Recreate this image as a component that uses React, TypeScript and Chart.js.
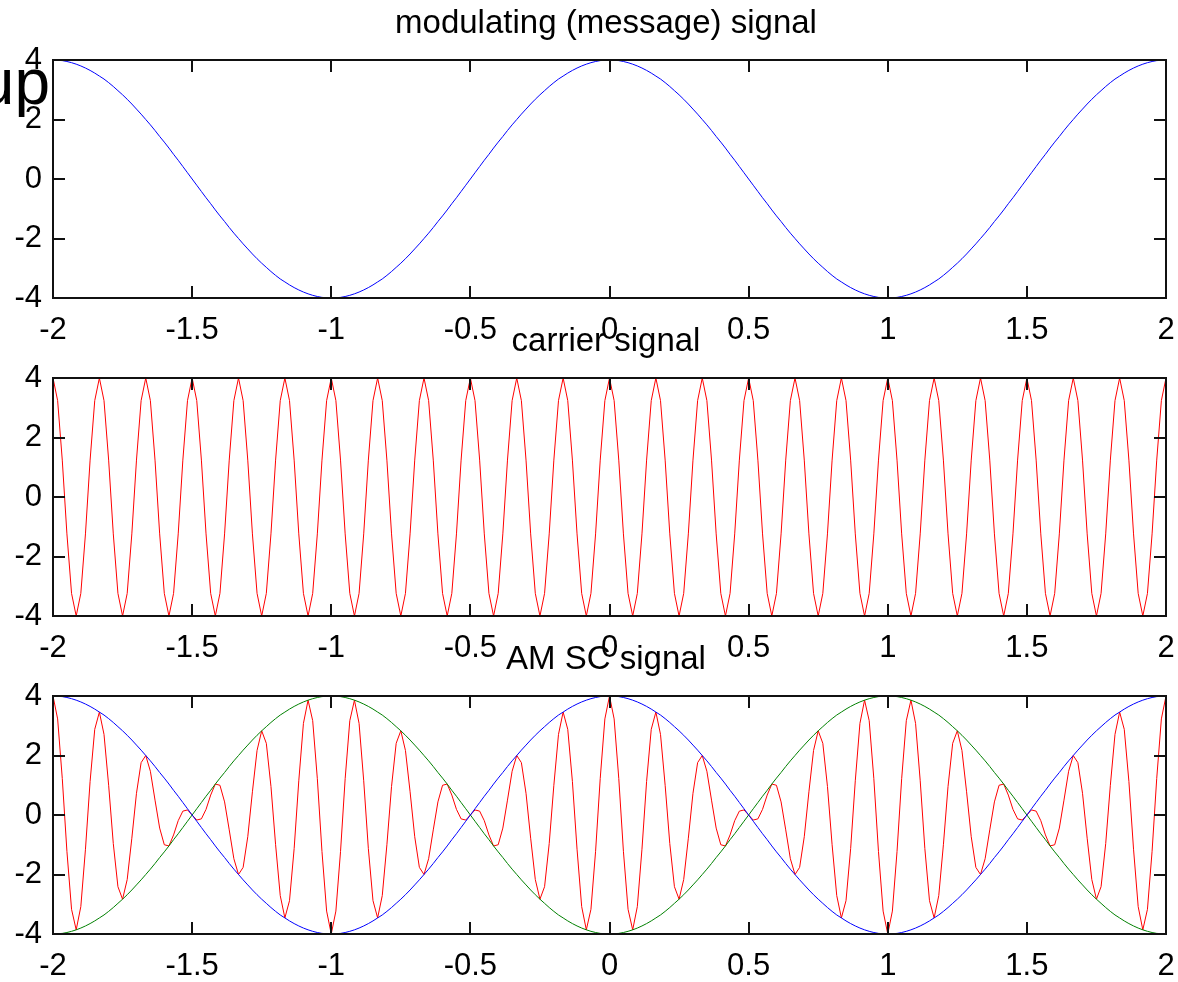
import React, { useEffect, useRef } from 'react';
import { Chart, registerables } from 'chart.js';

Chart.register(...registerables);

// ---------- data ----------
const T_START = -2;
const T_STEP = 1 / 60; // sample spacing of every series

const X_TICKS = [-2, -1.5, -1, -0.5, 0, 0.5, 1, 1.5, 2];
const Y_TICKS = [-4, -2, 0, 2, 4];

const TITLES = ['modulating (message) signal', 'carrier signal', 'AM SC signal'];
const STRAY_LABEL = 'up';

// modulating (message) signal, blue
const MESSAGE = [
  4.00, 3.99, 3.98, 3.95, 3.91, 3.86, 3.80, 3.73, 3.65, 3.56,
  3.46, 3.36, 3.24, 3.11, 2.97, 2.83, 2.68, 2.52, 2.35, 2.18,
  2.00, 1.82, 1.63, 1.43, 1.24, 1.04, 0.83, 0.63, 0.42, 0.21,
  0.00, -0.21, -0.42, -0.63, -0.83, -1.04, -1.24, -1.43, -1.63, -1.82,
  -2.00, -2.18, -2.35, -2.52, -2.68, -2.83, -2.97, -3.11, -3.24, -3.36,
  -3.46, -3.56, -3.65, -3.73, -3.80, -3.86, -3.91, -3.95, -3.98, -3.99,
  -4.00, -3.99, -3.98, -3.95, -3.91, -3.86, -3.80, -3.73, -3.65, -3.56,
  -3.46, -3.36, -3.24, -3.11, -2.97, -2.83, -2.68, -2.52, -2.35, -2.18,
  -2.00, -1.82, -1.63, -1.43, -1.24, -1.04, -0.83, -0.63, -0.42, -0.21,
  0.00, 0.21, 0.42, 0.63, 0.83, 1.04, 1.24, 1.43, 1.63, 1.82,
  2.00, 2.18, 2.35, 2.52, 2.68, 2.83, 2.97, 3.11, 3.24, 3.36,
  3.46, 3.56, 3.65, 3.73, 3.80, 3.86, 3.91, 3.95, 3.98, 3.99,
  4.00, 3.99, 3.98, 3.95, 3.91, 3.86, 3.80, 3.73, 3.65, 3.56,
  3.46, 3.36, 3.24, 3.11, 2.97, 2.83, 2.68, 2.52, 2.35, 2.18,
  2.00, 1.82, 1.63, 1.43, 1.24, 1.04, 0.83, 0.63, 0.42, 0.21,
  0.00, -0.21, -0.42, -0.63, -0.83, -1.04, -1.24, -1.43, -1.63, -1.82,
  -2.00, -2.18, -2.35, -2.52, -2.68, -2.83, -2.97, -3.11, -3.24, -3.36,
  -3.46, -3.56, -3.65, -3.73, -3.80, -3.86, -3.91, -3.95, -3.98, -3.99,
  -4.00, -3.99, -3.98, -3.95, -3.91, -3.86, -3.80, -3.73, -3.65, -3.56,
  -3.46, -3.36, -3.24, -3.11, -2.97, -2.83, -2.68, -2.52, -2.35, -2.18,
  -2.00, -1.82, -1.63, -1.43, -1.24, -1.04, -0.83, -0.63, -0.42, -0.21,
  0.00, 0.21, 0.42, 0.63, 0.83, 1.04, 1.24, 1.43, 1.63, 1.82,
  2.00, 2.18, 2.35, 2.52, 2.68, 2.83, 2.97, 3.11, 3.24, 3.36,
  3.46, 3.56, 3.65, 3.73, 3.80, 3.86, 3.91, 3.95, 3.98, 3.99,
  4.00,
];

// lower envelope in the AM SC panel, green
const LOWER_ENVELOPE = [
  -4.00, -3.99, -3.98, -3.95, -3.91, -3.86, -3.80, -3.73, -3.65, -3.56,
  -3.46, -3.36, -3.24, -3.11, -2.97, -2.83, -2.68, -2.52, -2.35, -2.18,
  -2.00, -1.82, -1.63, -1.43, -1.24, -1.04, -0.83, -0.63, -0.42, -0.21,
  0.00, 0.21, 0.42, 0.63, 0.83, 1.04, 1.24, 1.43, 1.63, 1.82,
  2.00, 2.18, 2.35, 2.52, 2.68, 2.83, 2.97, 3.11, 3.24, 3.36,
  3.46, 3.56, 3.65, 3.73, 3.80, 3.86, 3.91, 3.95, 3.98, 3.99,
  4.00, 3.99, 3.98, 3.95, 3.91, 3.86, 3.80, 3.73, 3.65, 3.56,
  3.46, 3.36, 3.24, 3.11, 2.97, 2.83, 2.68, 2.52, 2.35, 2.18,
  2.00, 1.82, 1.63, 1.43, 1.24, 1.04, 0.83, 0.63, 0.42, 0.21,
  0.00, -0.21, -0.42, -0.63, -0.83, -1.04, -1.24, -1.43, -1.63, -1.82,
  -2.00, -2.18, -2.35, -2.52, -2.68, -2.83, -2.97, -3.11, -3.24, -3.36,
  -3.46, -3.56, -3.65, -3.73, -3.80, -3.86, -3.91, -3.95, -3.98, -3.99,
  -4.00, -3.99, -3.98, -3.95, -3.91, -3.86, -3.80, -3.73, -3.65, -3.56,
  -3.46, -3.36, -3.24, -3.11, -2.97, -2.83, -2.68, -2.52, -2.35, -2.18,
  -2.00, -1.82, -1.63, -1.43, -1.24, -1.04, -0.83, -0.63, -0.42, -0.21,
  0.00, 0.21, 0.42, 0.63, 0.83, 1.04, 1.24, 1.43, 1.63, 1.82,
  2.00, 2.18, 2.35, 2.52, 2.68, 2.83, 2.97, 3.11, 3.24, 3.36,
  3.46, 3.56, 3.65, 3.73, 3.80, 3.86, 3.91, 3.95, 3.98, 3.99,
  4.00, 3.99, 3.98, 3.95, 3.91, 3.86, 3.80, 3.73, 3.65, 3.56,
  3.46, 3.36, 3.24, 3.11, 2.97, 2.83, 2.68, 2.52, 2.35, 2.18,
  2.00, 1.82, 1.63, 1.43, 1.24, 1.04, 0.83, 0.63, 0.42, 0.21,
  0.00, -0.21, -0.42, -0.63, -0.83, -1.04, -1.24, -1.43, -1.63, -1.82,
  -2.00, -2.18, -2.35, -2.52, -2.68, -2.83, -2.97, -3.11, -3.24, -3.36,
  -3.46, -3.56, -3.65, -3.73, -3.80, -3.86, -3.91, -3.95, -3.98, -3.99,
  -4.00,
];

// carrier signal, red
const CARRIER = [
  4.00, 3.24, 1.24, -1.24, -3.24, -4.00, -3.24, -1.24, 1.24, 3.24,
  4.00, 3.24, 1.24, -1.24, -3.24, -4.00, -3.24, -1.24, 1.24, 3.24,
  4.00, 3.24, 1.24, -1.24, -3.24, -4.00, -3.24, -1.24, 1.24, 3.24,
  4.00, 3.24, 1.24, -1.24, -3.24, -4.00, -3.24, -1.24, 1.24, 3.24,
  4.00, 3.24, 1.24, -1.24, -3.24, -4.00, -3.24, -1.24, 1.24, 3.24,
  4.00, 3.24, 1.24, -1.24, -3.24, -4.00, -3.24, -1.24, 1.24, 3.24,
  4.00, 3.24, 1.24, -1.24, -3.24, -4.00, -3.24, -1.24, 1.24, 3.24,
  4.00, 3.24, 1.24, -1.24, -3.24, -4.00, -3.24, -1.24, 1.24, 3.24,
  4.00, 3.24, 1.24, -1.24, -3.24, -4.00, -3.24, -1.24, 1.24, 3.24,
  4.00, 3.24, 1.24, -1.24, -3.24, -4.00, -3.24, -1.24, 1.24, 3.24,
  4.00, 3.24, 1.24, -1.24, -3.24, -4.00, -3.24, -1.24, 1.24, 3.24,
  4.00, 3.24, 1.24, -1.24, -3.24, -4.00, -3.24, -1.24, 1.24, 3.24,
  4.00, 3.24, 1.24, -1.24, -3.24, -4.00, -3.24, -1.24, 1.24, 3.24,
  4.00, 3.24, 1.24, -1.24, -3.24, -4.00, -3.24, -1.24, 1.24, 3.24,
  4.00, 3.24, 1.24, -1.24, -3.24, -4.00, -3.24, -1.24, 1.24, 3.24,
  4.00, 3.24, 1.24, -1.24, -3.24, -4.00, -3.24, -1.24, 1.24, 3.24,
  4.00, 3.24, 1.24, -1.24, -3.24, -4.00, -3.24, -1.24, 1.24, 3.24,
  4.00, 3.24, 1.24, -1.24, -3.24, -4.00, -3.24, -1.24, 1.24, 3.24,
  4.00, 3.24, 1.24, -1.24, -3.24, -4.00, -3.24, -1.24, 1.24, 3.24,
  4.00, 3.24, 1.24, -1.24, -3.24, -4.00, -3.24, -1.24, 1.24, 3.24,
  4.00, 3.24, 1.24, -1.24, -3.24, -4.00, -3.24, -1.24, 1.24, 3.24,
  4.00, 3.24, 1.24, -1.24, -3.24, -4.00, -3.24, -1.24, 1.24, 3.24,
  4.00, 3.24, 1.24, -1.24, -3.24, -4.00, -3.24, -1.24, 1.24, 3.24,
  4.00, 3.24, 1.24, -1.24, -3.24, -4.00, -3.24, -1.24, 1.24, 3.24,
  4.00,
];

// AM SC (modulated) signal, red
const AM_SC = [
  4.00, 3.23, 1.23, -1.22, -3.17, -3.86, -3.08, -1.15, 1.13, 2.88,
  3.46, 2.71, 1.00, -0.96, -2.41, -2.83, -2.17, -0.78, 0.73, 1.76,
  2.00, 1.47, 0.50, -0.44, -1.00, -1.04, -0.67, -0.19, 0.13, 0.17,
  0.00, -0.17, -0.13, 0.19, 0.67, 1.04, 1.00, 0.44, -0.50, -1.47,
  -2.00, -1.76, -0.73, 0.78, 2.17, 2.83, 2.41, 0.96, -1.00, -2.71,
  -3.46, -2.88, -1.13, 1.15, 3.08, 3.86, 3.17, 1.22, -1.23, -3.23,
  -4.00, -3.23, -1.23, 1.22, 3.17, 3.86, 3.08, 1.15, -1.13, -2.88,
  -3.46, -2.71, -1.00, 0.96, 2.41, 2.83, 2.17, 0.78, -0.73, -1.76,
  -2.00, -1.47, -0.50, 0.44, 1.00, 1.04, 0.67, 0.19, -0.13, -0.17,
  0.00, 0.17, 0.13, -0.19, -0.67, -1.04, -1.00, -0.44, 0.50, 1.47,
  2.00, 1.76, 0.73, -0.78, -2.17, -2.83, -2.41, -0.96, 1.00, 2.71,
  3.46, 2.88, 1.13, -1.15, -3.08, -3.86, -3.17, -1.22, 1.23, 3.23,
  4.00, 3.23, 1.23, -1.22, -3.17, -3.86, -3.08, -1.15, 1.13, 2.88,
  3.46, 2.71, 1.00, -0.96, -2.41, -2.83, -2.17, -0.78, 0.73, 1.76,
  2.00, 1.47, 0.50, -0.44, -1.00, -1.04, -0.67, -0.19, 0.13, 0.17,
  0.00, -0.17, -0.13, 0.19, 0.67, 1.04, 1.00, 0.44, -0.50, -1.47,
  -2.00, -1.76, -0.73, 0.78, 2.17, 2.83, 2.41, 0.96, -1.00, -2.71,
  -3.46, -2.88, -1.13, 1.15, 3.08, 3.86, 3.17, 1.22, -1.23, -3.23,
  -4.00, -3.23, -1.23, 1.22, 3.17, 3.86, 3.08, 1.15, -1.13, -2.88,
  -3.46, -2.71, -1.00, 0.96, 2.41, 2.83, 2.17, 0.78, -0.73, -1.76,
  -2.00, -1.47, -0.50, 0.44, 1.00, 1.04, 0.67, 0.19, -0.13, -0.17,
  0.00, 0.17, 0.13, -0.19, -0.67, -1.04, -1.00, -0.44, 0.50, 1.47,
  2.00, 1.76, 0.73, -0.78, -2.17, -2.83, -2.41, -0.96, 1.00, 2.71,
  3.46, 2.88, 1.13, -1.15, -3.08, -3.86, -3.17, -1.22, 1.23, 3.23,
  4.00,
];

// ---------- layout & style ----------
const W = 1178;
const H = 982;
const FONT = '"Liberation Sans", Arial, Helvetica, sans-serif';
const PLOT_LEFT = 53;
const PLOT_RIGHT = 1166;
const PLOT_TOPS = [60, 378, 696];
const PLOT_H = 238;
const X_AXIS_H = 50;
const TICK_FONT = 31;
const TITLE_FONT = 33;
const TICK_LEN = 12;

const toPoints = (vals: number[]) => vals.map((v, i) => ({ x: T_START + i * T_STEP, y: v }));

const framePlugin = {
  id: 'frame',
  afterDatasetsDraw(chart: any) {
    const { ctx, chartArea } = chart;
    const { left, right, top, bottom } = chartArea;
    const xs = chart.scales.x;
    const ys = chart.scales.y;
    const L = Math.round(left);
    const R = Math.round(right);
    const T = Math.round(top);
    const B = Math.round(bottom);
    ctx.save();
    ctx.strokeStyle = '#111';
    ctx.lineWidth = 2;
    ctx.beginPath();
    ctx.moveTo(L, T);
    ctx.lineTo(R, T);
    ctx.lineTo(R, B);
    ctx.lineTo(L, B);
    ctx.closePath();
    ctx.stroke();
    ctx.beginPath();
    X_TICKS.forEach((v) => {
      const px = Math.round(xs.getPixelForValue(v));
      ctx.moveTo(px, B);
      ctx.lineTo(px, B - TICK_LEN);
      ctx.moveTo(px, T);
      ctx.lineTo(px, T + TICK_LEN);
    });
    Y_TICKS.forEach((v) => {
      const py = Math.round(ys.getPixelForValue(v));
      ctx.moveTo(L, py);
      ctx.lineTo(L + TICK_LEN, py);
      ctx.moveTo(R, py);
      ctx.lineTo(R - TICK_LEN, py);
    });
    ctx.stroke();
    ctx.restore();
  },
  afterDraw(chart: any, _args: any, opts: any) {
    const { ctx, chartArea } = chart;
    ctx.save();
    ctx.fillStyle = '#000';
    ctx.font = `${TITLE_FONT}px ${FONT}`;
    ctx.textAlign = 'center';
    ctx.textBaseline = 'alphabetic';
    if (opts && opts.title) {
      ctx.fillText(opts.title, 606, chartArea.top - 27);
    }
    if (opts && opts.extra) {
      ctx.font = `64px ${FONT}`;
      ctx.textAlign = 'right';
      ctx.fillText(opts.extra, 50, 104);
    }
    ctx.restore();
  },
};

function makeConfig(idx: number, datasets: any[]): any {
  const top = PLOT_TOPS[idx];
  return {
    type: 'line',
    data: { datasets },
    options: {
      animation: false,
      responsive: false,
      maintainAspectRatio: false,
      events: [],
      parsing: false,
      normalized: true,
      layout: {
        padding: {
          top,
          bottom: H - (top + PLOT_H) - X_AXIS_H,
          left: 0,
          right: W - PLOT_RIGHT,
        },
      },
      elements: {
        point: { radius: 0 },
        line: { borderWidth: 1, tension: 0 },
      },
      plugins: {
        legend: { display: false },
        tooltip: { enabled: false },
        title: { display: false },
        frame: { title: TITLES[idx], extra: idx === 0 ? STRAY_LABEL : null },
      },
      scales: {
        x: {
          type: 'linear',
          min: -2,
          max: 2,
          afterFit: (s: any) => {
            s.height = X_AXIS_H;
            s.paddingLeft = 0;
            s.paddingRight = 0;
          },
          afterBuildTicks: (s: any) => {
            s.ticks = X_TICKS.map((v) => ({ value: v }));
          },
          ticks: {
            autoSkip: false,
            maxRotation: 0,
            minRotation: 0,
            padding: 14,
            color: '#000',
            font: { family: FONT, size: TICK_FONT },
            callback: (v: any) => String(v),
          },
          grid: { display: false, drawTicks: false },
          border: { display: false },
        },
        y: {
          type: 'linear',
          min: -4,
          max: 4,
          afterFit: (s: any) => {
            s.width = PLOT_LEFT;
            s.paddingTop = 0;
            s.paddingBottom = 0;
          },
          afterBuildTicks: (s: any) => {
            s.ticks = Y_TICKS.map((v) => ({ value: v }));
          },
          ticks: {
            autoSkip: false,
            padding: 11,
            color: '#000',
            font: { family: FONT, size: TICK_FONT },
            callback: (v: any) => String(v),
          },
          grid: { display: false, drawTicks: false },
          border: { display: false },
        },
      },
    },
    plugins: [framePlugin],
  };
}

const PANELS = [
  () => [{ data: toPoints(MESSAGE), borderColor: '#0000ff', borderWidth: 1 }],
  () => [{ data: toPoints(CARRIER), borderColor: '#ff0000', borderWidth: 1 }],
  () => [
    { data: toPoints(MESSAGE), borderColor: '#0000ff', borderWidth: 1 },
    { data: toPoints(LOWER_ENVELOPE), borderColor: '#008000', borderWidth: 1 },
    { data: toPoints(AM_SC), borderColor: '#ff0000', borderWidth: 1 },
  ],
];

function Panel({ idx }: { idx: number }) {
  const ref = useRef<HTMLCanvasElement | null>(null);
  useEffect(() => {
    if (!ref.current) return;
    const chart = new Chart(ref.current, makeConfig(idx, PANELS[idx]()));
    return () => chart.destroy();
  }, [idx]);
  return (
    <canvas
      ref={ref}
      width={W}
      height={H}
      style={{ position: 'absolute', left: 0, top: 0, width: W, height: H }}
    />
  );
}

export default function App() {
  return (
    <div
      style={{
        position: 'absolute',
        left: 0,
        top: 0,
        width: W,
        height: H,
        background: '#fff',
        overflow: 'hidden',
      }}
    >
      <Panel idx={0} />
      <Panel idx={1} />
      <Panel idx={2} />
    </div>
  );
}
